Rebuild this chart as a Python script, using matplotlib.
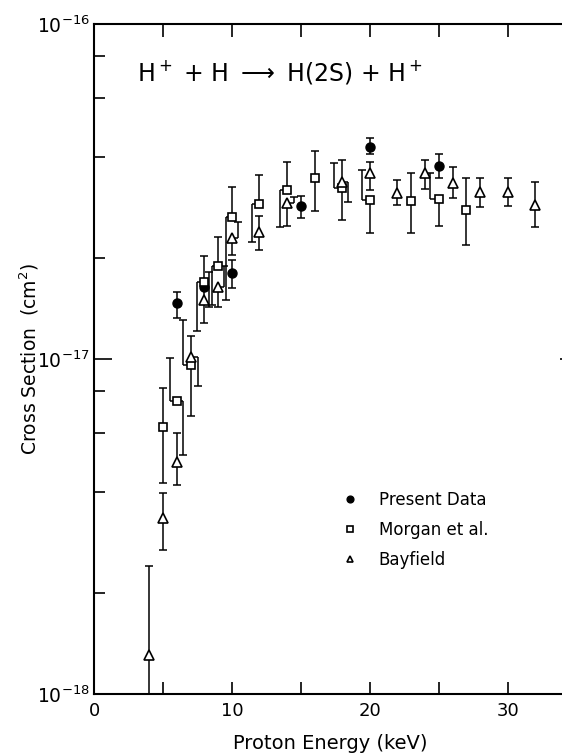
import matplotlib
matplotlib.use("Agg")
import matplotlib.pyplot as plt
import numpy as np
from matplotlib.ticker import NullLocator, LogLocator, NullFormatter

SCALE = 1e-17  # all cross sections below are in units of 1e-17 cm^2

# Present data (filled circles)
present_e = [6, 8, 10, 15, 20, 25]
present_s = [1.47, 1.64, 1.81, 2.86, 4.30, 3.78]
present_hi = [1.59, 1.82, 1.97, 3.07, 4.56, 4.09]
present_lo = [1.33, 1.43, 1.63, 2.64, 4.08, 3.48]

# Morgan et al. (open squares)
morgan_e = [5, 6, 7, 8, 9, 10, 12, 14, 16, 18, 20, 23, 25, 27]
morgan_s = [0.628, 0.751, 0.959, 1.70, 1.90, 2.66, 2.90, 3.20, 3.46, 3.23, 2.99, 2.97, 3.00, 2.79]
morgan_hi = [0.821, 1.005, 1.307, 2.03, 2.32, 3.27, 3.53, 3.88, 4.18, 3.85, 3.67, 3.60, 3.60, 3.46]
morgan_lo = [0.426, 0.517, 0.676, 1.21, 1.45, 1.50, 2.24, 2.48, 2.77, 2.60, 2.37, 2.38, 2.49, 2.19]

# Bayfield (open triangles)
bay_e = [4, 5, 6, 7, 8, 9, 10, 12, 14, 18, 20, 22, 24, 26, 28, 30, 32]
bay_s = [0.131, 0.336, 0.494, 1.012, 1.50, 1.64, 2.29, 2.40, 2.93, 3.38, 3.58, 3.13, 3.58, 3.36, 3.16, 3.15, 2.88]
bay_hi = [0.241, 0.397, 0.603, 1.171, 1.62, 1.90, 2.57, 2.68, 3.05, 3.94, 3.88, 3.42, 3.92, 3.75, 3.48, 3.48, 3.38]
bay_lo = [0.05, 0.269, 0.421, 0.831, 1.28, 1.43, 2.04, 2.12, 2.50, 2.95, 3.19, 2.88, 3.21, 3.03, 2.84, 2.86, 2.47]

# sideways shift (keV) of the upper / lower half of an error bar, used in the
# original where bars of different data sets would lie on top of each other
present_up_shift = [0, 0.35, 0, 0, 0, 0]
present_dn_shift = [0, 0.35, 0, 0, 0, 0]
morgan_up_shift = [0, -0.5, -0.53, 0, 0, 0, 0, 0, 0, -0.59, -0.6, 0, -0.65, 0]
morgan_dn_shift = [0, 0.47, 0, -0.5, -0.43, -0.45, -0.57, -0.52, 0, 0, 0, 0, 0, 0]
bay_up_shift = [0, 0, 0, 0, 0, 0.44, 0.46, 0, 0.49, 0, 0, 0, 0, 0, 0, 0, 0]
bay_dn_shift = [0, 0, 0, 0.56, 0, 0, 0, 0, 0, 0.43, 0, 0, 0, 0, 0, 0, 0]

xticks = [0, 5, 10, 15, 20, 25, 30]
xtick_labels = ["0", "", "10", "", "20", "", "30"]
yticks = [1e-18, 1e-17, 1e-16]
ytick_labels = [r"$10^{-18}$", r"$10^{-17}$", r"$10^{-16}$"]

plt.rcParams["font.family"] = ["DejaVu Sans"]
plt.rcParams["mathtext.fontset"] = "dejavusans"


def draw_bars(ax, e, s, hi, lo, up_shift, dn_shift):
    e = np.asarray(e, float)
    s = np.asarray(s) * SCALE
    hi = np.asarray(hi) * SCALE
    lo = np.asarray(lo) * SCALE
    xu = e + np.asarray(up_shift)
    xd = e + np.asarray(dn_shift)
    kw = dict(color="black", linewidth=1.1, zorder=2)
    ax.vlines(xu, s, hi, **kw)
    ax.vlines(xd, lo, s, **kw)
    ax.hlines(s, e, xu, **kw)
    ax.hlines(s, e, xd, **kw)
    ax.plot(xu, hi, ls="none", marker="_", ms=6, mew=1.1, color="black", zorder=2)
    ax.plot(xd, lo, ls="none", marker="_", ms=6, mew=1.1, color="black", zorder=2)


fig = plt.figure(figsize=(5.62, 7.55), dpi=100)
ax = fig.add_axes([94 / 562, 61 / 755, 473 / 562, 670 / 755])

draw_bars(ax, present_e, present_s, present_hi, present_lo, present_up_shift, present_dn_shift)
draw_bars(ax, morgan_e, morgan_s, morgan_hi, morgan_lo, morgan_up_shift, morgan_dn_shift)
draw_bars(ax, bay_e, bay_s, bay_hi, bay_lo, bay_up_shift, bay_dn_shift)

h1, = ax.plot(present_e, np.asarray(present_s) * SCALE, ls="none", marker="o", ms=6.5,
              mfc="black", mec="black", zorder=3, label="Present Data")
h2, = ax.plot(morgan_e, np.asarray(morgan_s) * SCALE, ls="none", marker="s", ms=5.5,
              mfc="white", mec="black", mew=1.2, zorder=3, label="Morgan et al.")
h3, = ax.plot(bay_e, np.asarray(bay_s) * SCALE, ls="none", marker="^", ms=6.5,
              mfc="white", mec="black", mew=1.2, zorder=4, label="Bayfield")

ax.set_yscale("log")
ax.set_ylim(1e-18, 1e-16)
ax.set_yticks(yticks)
ax.set_yticklabels(ytick_labels)
ax.yaxis.set_minor_locator(LogLocator(base=10, subs=[2, 4, 6, 8]))
ax.yaxis.set_minor_formatter(NullFormatter())
ax.set_xlim(0, 34.3)
ax.set_xticks(xticks)
ax.set_xticklabels(xtick_labels)

for sp in ax.spines.values():
    sp.set_linewidth(1.5)

ax.tick_params(axis="x", which="major", direction="in", length=9, width=1.2,
               top=True, labelsize=13, pad=6)
ax.tick_params(axis="y", which="major", direction="in", length=13, width=1.2,
               right=False, labelsize=13.5, pad=3)
ax.tick_params(axis="y", which="minor", direction="in", length=8, width=1.2,
               right=False)

sec = ax.secondary_yaxis("right")
sec.set_yticks(yticks)
sec.yaxis.set_minor_locator(NullLocator())
sec.tick_params(direction="in", length=5, width=1.2, labelright=False)

ax.set_xlabel("Proton Energy (keV)", fontsize=14, labelpad=10)
ax.set_ylabel("Cross Section  (cm$^2$)", fontsize=13.5)
ax.yaxis.set_label_coords(-0.112, 0.5)

ax.text(0.09, 0.928, r"H$^+$ + H $\longrightarrow$ H(2S) + H$^+$",
        transform=ax.transAxes, fontsize=17, ha="left", va="center")

ax.legend(handles=[h1, h2, h3], loc="upper left", bbox_to_anchor=(0.524, 0.303),
          frameon=False, fontsize=12, handlelength=1.0, handletextpad=1.2,
          labelspacing=0.72, markerscale=0.75, borderaxespad=0, borderpad=0)

fig.savefig("out.png", dpi=100)
